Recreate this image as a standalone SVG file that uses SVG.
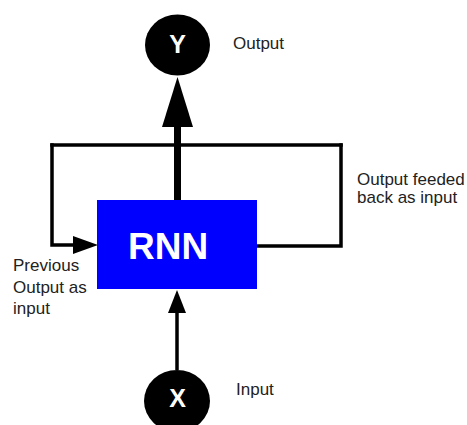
<svg xmlns="http://www.w3.org/2000/svg" width="467" height="425" viewBox="0 0 467 425">
<style>
.lbl{font-family:"Liberation Sans",Arial,sans-serif;font-size:17px;fill:#222}
.wht{font-family:"Liberation Sans",Arial,sans-serif;font-weight:bold;fill:#fff}
.ln{fill:none;stroke:#000;stroke-width:3.5;stroke-linejoin:miter;stroke-linecap:square}
</style>
<rect width="467" height="425" fill="#fff"/>
<g id="connectors">
<path class="ln" d="M177.5,200 V125" style="stroke-width:7;stroke-linecap:butt"/>
<polygon points="177.5,77 162,127 193,127" fill="#000"/>
<path class="ln" d="M52,145 H341"/>
<path class="ln" d="M52,145 V245 H76"/>
<polygon points="98,245 73,236 73,254" fill="#000"/>
<path class="ln" d="M257,246 H341 V145"/>
<path class="ln" d="M177,370 V311" style="stroke-linecap:butt"/>
<polygon points="177,290 168,313 186,313" fill="#000"/>
</g>
<g id="node-y">
<ellipse cx="177.5" cy="45" rx="32.5" ry="30.5" fill="#000"/>
<text class="wht" x="177.5" y="52.5" font-size="25" text-anchor="middle">Y</text>
</g>
<g id="node-rnn">
<rect x="97" y="200" width="160" height="89" fill="#0000ff"/>
<text class="wht" x="128" y="259" font-size="37">RNN</text>
</g>
<g id="node-x">
<ellipse cx="177" cy="401" rx="33" ry="31" fill="#000"/>
<text class="wht" x="177.5" y="406.5" font-size="25" text-anchor="middle">X</text>
</g>
<g id="labels">
<text class="lbl" x="233" y="49">Output</text>
<text class="lbl" x="357" y="185">Output feeded</text>
<text class="lbl" x="357" y="203">back as input</text>
<text class="lbl" x="13" y="271">Previous</text>
<text class="lbl" x="13" y="292.5">Output as</text>
<text class="lbl" x="13" y="314">input</text>
<text class="lbl" x="236" y="395">Input</text>
</g>
</svg>
